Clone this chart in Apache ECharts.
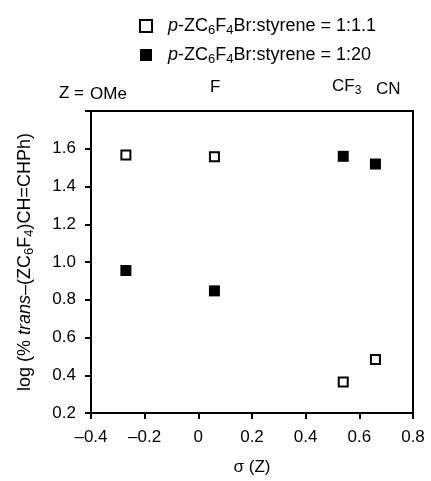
<!DOCTYPE html>
<html>
<head>
<meta charset="utf-8">
<script src="https://cdn.jsdelivr.net/npm/echarts@6/dist/echarts.min.js"></script>
<style>
html,body{margin:0;padding:0;background:#fff;}
#c{width:431px;height:481px;}
</style>
</head>
<body>
<div id="c"></div>
<script>
// ---- data ----
var substituents = ['OMe', 'F', 'CF3', 'CN'];
var sigma = [-0.27, 0.06, 0.54, 0.66];
var ratio1_1 = [1.567, 1.558, 0.364, 0.484];   // open squares, 1:1.1
var ratio1_20 = [0.955, 0.847, 1.560, 1.519];  // filled squares, 1:20
var seriesNames = ['p-ZC6F4Br:styrene = 1:1.1', 'p-ZC6F4Br:styrene = 1:20'];
var xTicks = [-0.4, -0.2, 0, 0.2, 0.4, 0.6, 0.8];
var yTicks = [0.2, 0.4, 0.6, 0.8, 1.0, 1.2, 1.4, 1.6];

var FONT = '"Liberation Sans", Arial, sans-serif';
function pairs(xs, ys){ return xs.map(function(x,i){ return [x, ys[i]]; }); }
function fmtX(v){
  if (Math.abs(v) < 1e-9) return '0';
  var s = Math.abs(v).toFixed(1);
  return (v < 0 ? '\u2013' : '') + s;
}

var chart = echarts.init(document.getElementById('c'), null, {renderer:'canvas'});
var option = {
  backgroundColor: '#fff',
  animation: false,
  textStyle: {fontFamily: FONT, color: '#000'},
  grid: {left: 91, right: 18, top: 111, bottom: 68, show: true, borderColor: '#000', borderWidth: 2},
  legend: {
    orient: 'vertical',
    left: 134, top: 12,
    itemWidth: 12, itemHeight: 12, itemGap: 9,
    icon: 'rect',
    data: seriesNames,
    formatter: function(name){
      var tail = name.split('Br')[1];
      return '{it|p}{n|-ZC}{sub|6}{n|F}{sub|4}{n|Br' + tail + '}';
    },
    textStyle: {
      fontFamily: FONT, fontSize: 18, color:'#000',
      rich: {
        n: {fontSize: 18, fontFamily: FONT, lineHeight: 22},
        it: {fontSize: 18, fontFamily: FONT, fontStyle:'italic', lineHeight: 22, padding:[0,0,0,11]},
        sub: {fontSize: 13, fontFamily: FONT, lineHeight: 12, verticalAlign:'bottom'}
      }
    }
  },
  xAxis: {
    type: 'value', min: -0.4, max: 0.8, interval: 0.2,
    splitLine: {show:false},
    axisLine: {onZero:false, lineStyle:{color:'#000', width:2}},
    axisTick: {inside:false, length:6, lineStyle:{color:'#000', width:2}},
    axisLabel: {color:'#000', fontSize:17, fontFamily:FONT, margin:16, formatter: fmtX},
    name: '\u03c3 (Z)', nameLocation: 'middle', nameGap: 46,
    nameTextStyle: {fontSize:17, fontFamily:FONT, color:'#000'}
  },
  yAxis: {
    type: 'value', min: 0.2, max: 1.8, interval: 0.2,
    splitLine: {show:false},
    axisLine: {onZero:false, lineStyle:{color:'#000', width:2}},
    axisTick: {inside:false, length:6, lineStyle:{color:'#000', width:2}},
    axisLabel: {color:'#000', fontSize:17, fontFamily:FONT, margin:15,
      formatter: function(v){ return v > 1.7 ? '' : v.toFixed(1); }},
    name: '{n|log (% }{it|trans}{n|\u2013(ZC}{sub|6}{n|F}{sub|4}{n|)CH=CHPh)}',
    nameLocation: 'middle', nameRotate: 90, nameGap: 55,
    nameTextStyle: {
      fontSize:18, fontFamily:FONT, color:'#000',
      rich: {
        n: {fontSize:18, fontFamily:FONT, lineHeight:22},
        it: {fontSize:18, fontFamily:FONT, fontStyle:'italic', lineHeight:22},
        sub: {fontSize:13, fontFamily:FONT, lineHeight:12, verticalAlign:'bottom'}
      }
    }
  },
  graphic: [
    {type:'text', left: 59, top: 85, style:{text:'Z =', fontSize:17, fontFamily:FONT, fill:'#000'}},
    {type:'text', left: 90, top: 86, style:{text: substituents[0], fontSize:17, fontFamily:FONT, fill:'#000'}},
    {type:'text', left: 210, top: 79, style:{text: substituents[1], fontSize:17, fontFamily:FONT, fill:'#000'}},
    {type:'text', left: 332, top: 78, style:{text:'{n|CF}{sub|3}', fontSize:17, fontFamily:FONT, fill:'#000',
      rich:{n:{fontSize:17, fontFamily:FONT, lineHeight:20}, sub:{fontSize:12, fontFamily:FONT, lineHeight:10, verticalAlign:'bottom'}}}},
    {type:'text', left: 376, top: 81, style:{text: substituents[3], fontSize:17, fontFamily:FONT, fill:'#000'}}
  ],
  series: [
    {
      name: seriesNames[0], type:'scatter', symbol:'rect', symbolSize: 9,
      itemStyle: {color:'#fff', borderColor:'#000', borderWidth:2, opacity:1},
      data: pairs(sigma, ratio1_1)
    },
    {
      name: seriesNames[1], type:'scatter', symbol:'rect', symbolSize: 11,
      itemStyle: {color:'#000', borderColor:'#000', borderWidth:0, opacity:1},
      data: pairs(sigma, ratio1_20)
    }
  ]
};
chart.setOption(option);
</script>
</body>
</html>
